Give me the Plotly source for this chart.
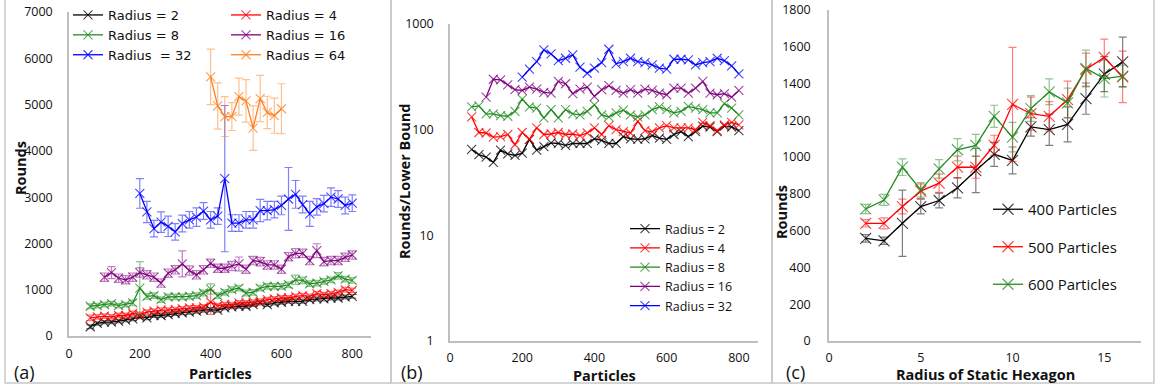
import plotly.graph_objects as go

W, H = 1156, 389

# ---------------- Panel (a) data ----------------
a_x_r2 = list(range(60, 801, 20))
a_x_r4 = list(range(60, 801, 20))
a_x_r8 = list(range(60, 801, 20))
a_x_r16 = list(range(100, 801, 20))
a_x_r32 = list(range(200, 801, 20))
a_x_r64 = list(range(400, 601, 20))

a_r2 = [200, 271, 300, 300, 321, 343, 371, 414, 393, 443, 443, 464, 486, 500, 514, 536, 557, 571, 557,
        607, 629, 643, 643, 679, 714, 679, 714, 729, 750, 750, 750, 786, 800, 800, 821, 821, 843, 857]
a_r2_err = [40, 35, 35, 35, 35, 35, 40, 40, 40, 40, 40, 40, 40, 40, 40, 40, 40, 40, 40,
            40, 40, 40, 40, 40, 40, 40, 40, 40, 40, 40, 40, 40, 40, 40, 40, 40, 40, 40]
a_r4 = [393, 414, 429, 414, 443, 443, 486, 464, 514, 536, 557, 557, 571, 586, 607, 607, 629, 729, 657,
        679, 679, 714, 714, 729, 750, 786, 800, 821, 821, 857, 871, 857, 914, 893, 914, 943, 1000, 986]
a_r4_err = [60, 50, 50, 50, 50, 50, 50, 50, 50, 50, 50, 50, 50, 50, 50, 50, 50, 260, 50,
            50, 50, 50, 50, 50, 50, 50, 50, 50, 50, 50, 50, 50, 50, 50, 50, 50, 50, 50]
a_r8 = [643, 657, 679, 700, 657, 679, 714, 1036, 857, 871, 786, 843, 843, 843, 857, 871, 929, 1014, 871,
        943, 1000, 1036, 929, 943, 1036, 1071, 1071, 1071, 1107, 1214, 1200, 1129, 1143, 1179, 1214, 1300, 1229, 1200]
a_r8_err = [50, 50, 50, 50, 50, 50, 60, 570, 60, 60, 60, 60, 60, 60, 60, 60, 60, 110, 60,
            60, 60, 60, 60, 60, 60, 60, 60, 60, 60, 100, 70, 60, 60, 60, 60, 70, 60, 60]
a_r16 = [1271, 1371, 1250, 1214, 1271, 1371, 1321, 1271, 1143, 1357, 1430, 1557, 1414, 1321, 1430, 1571, 1464, 1464,
         1514, 1557, 1443, 1629, 1607, 1536, 1536, 1443, 1714, 1786, 1786, 1629, 1843, 1607, 1629, 1629, 1700, 1750]
a_r16_err = [90, 130, 90, 90, 90, 100, 90, 90, 90, 90, 90, 280, 100, 90, 90, 90, 90, 90,
             100, 150, 90, 90, 90, 90, 90, 90, 90, 100, 90, 90, 150, 90, 90, 90, 90, 90]
a_r32 = [3080, 2680, 2320, 2460, 2370, 2250, 2430, 2510, 2570, 2700, 2510, 2590, 3400, 2440, 2440, 2510,
         2510, 2710, 2710, 2730, 2820, 2960, 3060, 2840, 2640, 2790, 2860, 3000, 2960, 2820, 2870]
a_r32_err = [320, 230, 180, 220, 220, 180, 180, 180, 200, 180, 180, 180, 1580, 180, 180, 180,
             180, 240, 200, 180, 200, 680, 300, 180, 270, 180, 180, 200, 180, 180, 180]
a_r64 = [5600, 4970, 4740, 4740, 5170, 5080, 4490, 5130, 4830, 4760, 4910]
a_r64_err = [600, 500, 430, 300, 400, 460, 480, 500, 350, 380, 540]

# ---------------- Panel (b) data ----------------
b_r2 = [65, 58, 55, 49, 64, 59, 57, 60, 81, 64, 69, 75, 74, 71, 74, 74, 74, 82, 79,
        74, 74, 86, 82, 81, 82, 88, 83, 81, 90, 96, 86, 96, 108, 106, 96, 108, 106, 98]
b_r4 = [132, 94, 93, 85, 86, 90, 72, 94, 81, 104, 90, 91, 94, 90, 91, 88, 93, 104, 90,
        109, 100, 96, 93, 120, 98, 96, 104, 109, 104, 104, 104, 100, 117, 109, 98, 111, 117, 111]
b_r8 = [164, 168, 141, 141, 136, 134, 149, 195, 164, 160, 129, 155, 129, 155, 141, 138, 149, 172, 138,
        132, 144, 153, 138, 132, 138, 155, 164, 155, 144, 149, 166, 160, 155, 144, 144, 176, 160, 138]
b_r16 = [203, 300, 296, 266, 239, 235, 253, 242, 225, 222, 286, 272, 219, 242, 253, 207, 239, 261,
         235, 222, 239, 222, 242, 235, 222, 214, 247, 247, 222, 247, 286, 222, 214, 219, 203, 235]
b_r32 = [314, 374, 441, 568, 521, 450, 474, 510, 390, 342, 382, 432, 577, 420, 441, 474,
         441, 432, 410, 382, 374, 464, 464, 458, 410, 432, 441, 474, 450, 401, 337]

# ---------------- Panel (c) data ----------------
c_x = list(range(2, 17))
c_400 = [558, 545, 640, 731, 764, 833, 927, 1015, 982, 1164, 1149, 1178, 1318, 1451, 1518]
c_400_err = [20, 20, 180, 40, 40, 55, 120, 65, 73, 50, 85, 95, 85, 95, 135]
c_500 = [640, 640, 731, 815, 858, 945, 945, 1064, 1287, 1236, 1222, 1313, 1476, 1542, 1436]
c_500_err = [20, 30, 40, 40, 50, 60, 60, 55, 310, 90, 80, 100, 90, 100, 140]
c_600 = [718, 767, 945, 822, 936, 1040, 1064, 1222, 1109, 1264, 1355, 1295, 1482, 1427, 1440]
c_600_err = [25, 30, 45, 40, 50, 60, 60, 60, 80, 70, 70, 80, 100, 100, 60]

# tick labels
a_xticks = [0, 200, 400, 600, 800]
a_yticks = [0, 1000, 2000, 3000, 4000, 5000, 6000, 7000]
b_yticks = [1, 10, 100, 1000]
c_xticks = [0, 5, 10, 15]
c_yticks = [0, 200, 400, 600, 800, 1000, 1200, 1400, 1600, 1800]

COL = {
    "k": (0, 0, 0),
    "r": (255, 0, 0),
    "g": (34, 139, 34),
    "p": (128, 0, 128),
    "b": (0, 0, 255),
    "o": (255, 127, 30),
}


def rgba(c, a):
    return "rgba(%d,%d,%d,%.2f)" % (c[0], c[1], c[2], a)


FONT = "Open Sans"

fig = go.Figure()


def add(x, y, err, name, c, xa, ya, legend, msize=9, group=None):
    col = COL[c]
    tr = dict(
        x=x, y=y, name=name, mode="lines+markers",
        line=dict(color=rgba(col, 1), width=1.3),
        marker=dict(symbol="x-thin", size=msize, color=rgba(col, 0.8),
                    line=dict(width=1.1, color=rgba(col, 0.75))),
        xaxis=xa, yaxis=ya, legend=legend,
    )
    if group:
        tr["legendgroup"] = group
    if err is not None:
        tr["error_y"] = dict(type="data", array=err, visible=True,
                             color=rgba(col, 0.5), thickness=1.2, width=4)
    fig.add_trace(go.Scatter(**tr))


# Panel (a)
add(a_x_r2, a_r2, a_r2_err, "Radius = 2", "k", "x", "y", "legend")
add(a_x_r4, a_r4, a_r4_err, "Radius = 4", "r", "x", "y", "legend2")
add(a_x_r8, a_r8, a_r8_err, "Radius = 8", "g", "x", "y", "legend")
add(a_x_r16, a_r16, a_r16_err, "Radius = 16", "p", "x", "y", "legend2")
add(a_x_r32, a_r32, a_r32_err, "Radius\u00a0\u00a0= 32", "b", "x", "y", "legend")
add(a_x_r64, a_r64, a_r64_err, "Radius = 64", "o", "x", "y", "legend2")

# Panel (b)
add(a_x_r2, b_r2, None, "Radius = 2", "k", "x2", "y2", "legend3")
add(a_x_r4, b_r4, None, "Radius = 4", "r", "x2", "y2", "legend3")
add(a_x_r8, b_r8, None, "Radius = 8", "g", "x2", "y2", "legend3")
add(a_x_r16, b_r16, None, "Radius = 16", "p", "x2", "y2", "legend3")
add(a_x_r32, b_r32, None, "Radius = 32", "b", "x2", "y2", "legend3")

# Panel (c)
add(c_x, c_400, c_400_err, "400 Particles", "k", "x3", "y3", "legend4", msize=11, group="g1")
add(c_x, c_500, c_500_err, "500 Particles", "r", "x3", "y3", "legend4", msize=11, group="g2")
add(c_x, c_600, c_600_err, "600 Particles", "g", "x3", "y3", "legend4", msize=11, group="g3")


def px_x(p):
    return p / W


def px_y(p):
    return 1 - p / H


AX = dict(showgrid=False, zeroline=False, showline=True, linecolor="#bfbfbf", linewidth=1.5,
          ticks="", tickfont=dict(family=FONT, size=12.5, color="#111"), ticklabelstandoff=12,
          automargin=False)

LEG_A_FONT = dict(family="DejaVu Sans", size=13, color="#111")

fig.update_layout(
    width=W, height=H,
    autosize=False,
    margin=dict(l=0, r=0, t=0, b=0, pad=0, autoexpand=False),
    paper_bgcolor="white", plot_bgcolor="white",
    showlegend=True,
    xaxis=dict(AX, domain=[px_x(69), px_x(371)], range=[0, 853], tickvals=a_xticks, anchor="y",
               ticklabelstandoff=5),
    yaxis=dict(AX, domain=[px_y(336), px_y(12)], range=[0, 7000], tickvals=a_yticks, anchor="x"),
    xaxis2=dict(AX, domain=[px_x(450), px_x(758)], range=[0, 853], tickvals=a_xticks, anchor="y2",
                ticklabelstandoff=4),
    yaxis2=dict(AX, domain=[px_y(341), px_y(24)], type="log", range=[0, 3], tickvals=b_yticks,
                ticktext=[str(v) for v in b_yticks], anchor="x2"),
    xaxis3=dict(AX, domain=[px_x(829), px_x(1141)], range=[0, 17], tickvals=c_xticks, anchor="y3",
                ticklabelstandoff=4),
    yaxis3=dict(AX, domain=[px_y(341), px_y(10)], range=[0, 1800], tickvals=c_yticks, anchor="x3",
                ticklabelstandoff=14),
    legend=dict(x=px_x(68), y=1, xanchor="left", yanchor="top", bgcolor="rgba(0,0,0,0)",
                font=LEG_A_FONT, itemwidth=30, tracegroupgap=0),
    legend2=dict(x=px_x(226), y=1, xanchor="left", yanchor="top", bgcolor="rgba(0,0,0,0)",
                 font=LEG_A_FONT, itemwidth=30, tracegroupgap=0),
    legend3=dict(x=px_x(625), y=px_y(214), xanchor="left", yanchor="top", bgcolor="rgba(0,0,0,0)",
                 font=dict(family=FONT, size=12.5, color="#111"), itemwidth=30, tracegroupgap=0),
    legend4=dict(x=px_x(988), y=px_y(193), xanchor="left", yanchor="top", bgcolor="rgba(0,0,0,0)",
                 font=dict(family=FONT, size=15, color="#111"), itemwidth=30, tracegroupgap=15,
                 traceorder="grouped"),
)

# panel borders
for x0, x1 in [(5, 391), (391, 772), (772, 1154)]:
    fig.add_shape(type="rect", xref="paper", yref="paper", x0=px_x(x0), x1=px_x(x1),
                  y0=px_y(383), y1=px_y(-5), line=dict(color="#c8c8c8", width=1.5))


def txt(x, y, s, size, bold=False, angle=0):
    fig.add_annotation(x=px_x(x), y=px_y(y), xref="paper", yref="paper", text=("<b>%s</b>" % s) if bold else s,
                       showarrow=False, textangle=angle, xanchor="center", yanchor="middle",
                       font=dict(family=FONT, size=size, color="#111"))


txt(220, 373, "Particles", 14.5, True)
txt(604, 375, "Particles", 14.5, True)
txt(985, 374, "Radius of Static Hexagon", 14.5, True)
txt(20, 168, "Rounds", 14.5, True, -90)
txt(405, 182, "Rounds/Lower Bound", 14.5, True, -90)
txt(782, 212, "Rounds", 14.5, True, -90)
txt(25, 372, "(a)", 18)
txt(412, 372, "(b)", 18)
txt(795, 372, "(c)", 18)

fig.write_html("out.html", config={"displayModeBar": False},
               post_script="document.body.style.margin='0';document.body.style.overflow='hidden';")
